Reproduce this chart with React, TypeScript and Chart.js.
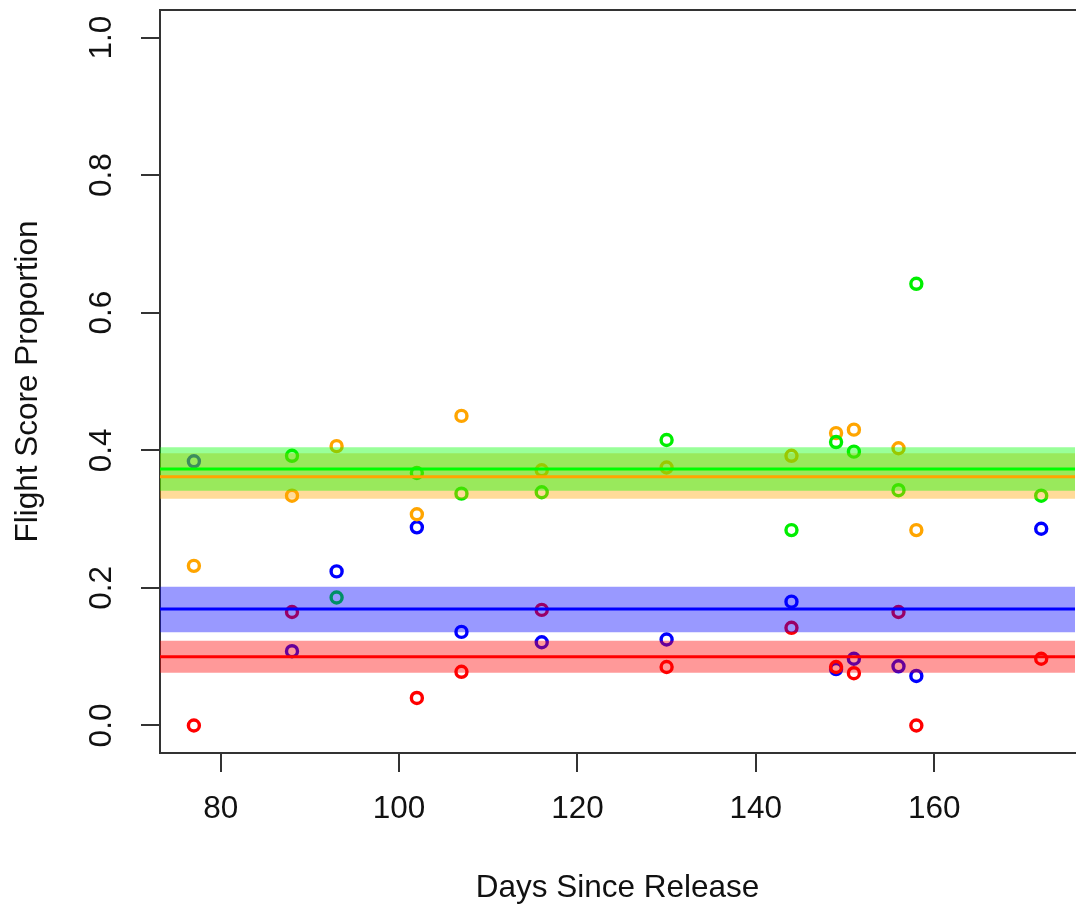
import React, { useEffect, useRef } from 'react';
import { Chart, registerables } from 'chart.js';

Chart.register(...registerables);

// ---- data ----
const days = [77, 88, 93, 102, 107, 116, 130, 144, 149, 151, 156, 158, 172];
const redValues = [0.0, 0.165, null, 0.04, 0.078, 0.168, 0.085, 0.142, 0.085, 0.076, 0.165, 0.0, 0.097];
const blueValues = [0.384, 0.108, 0.224, 0.288, 0.136, 0.121, 0.125, 0.18, 0.082, 0.097, 0.086, 0.072, 0.286];
const greenValues = [null, 0.392, 0.186, 0.367, 0.337, 0.339, 0.415, 0.284, 0.412, 0.398, 0.342, 0.642, 0.334];
const orangeValues = [0.232, 0.334, 0.406, 0.307, 0.45, 0.371, 0.375, 0.392, 0.425, 0.43, 0.403, 0.284, null];

// group means with confidence bands [mean, lower, upper]
const greenMean = [0.3728, 0.3413, 0.4044];
const orangeMean = [0.3616, 0.3297, 0.3956];
const blueMean = [0.1693, 0.1355, 0.2017];
const redMean = [0.1, 0.0767, 0.1233];

const xTicks = [80, 100, 120, 140, 160];
const yTicks = [0, 0.2, 0.4, 0.6, 0.8, 1.0];
const xLabel = 'Days Since Release';
const yLabel = 'Flight Score Proportion';

const X_MIN = 73.2;
const X_MAX = 175.8;
const Y_MIN = -0.04;
const Y_MAX = 1.04;

const FONT = { family: '"Liberation Sans", Arial, sans-serif', size: 31.5, lineHeight: 1 };
const AXIS_COLOR = '#333333';

function pts(values: (number | null)[]) {
  const out: { x: number; y: number }[] = [];
  values.forEach((v, i) => {
    if (v !== null) out.push({ x: days[i], y: v });
  });
  return out;
}

function hline(y: number) {
  return [
    { x: X_MIN, y },
    { x: X_MAX, y },
  ];
}

export default function App() {
  const ref = useRef<HTMLCanvasElement | null>(null);

  useEffect(() => {
    if (!ref.current) return;
    const pointDs = (label: string, values: (number | null)[], color: string, order: number) => ({
      type: 'scatter' as const,
      label,
      data: pts(values),
      showLine: false,
      borderColor: color,
      backgroundColor: 'rgba(0,0,0,0)',
      pointBorderColor: color,
      pointBackgroundColor: 'rgba(0,0,0,0)',
      pointRadius: 5.5,
      pointBorderWidth: 3.4,
      pointHoverRadius: 5.5,
      order,
    });
    const bandDs = (label: string, m: number[], fillColor: string, order: number) => ({
      type: 'line' as const,
      label,
      data: hline(m[2]),
      borderWidth: 0,
      borderColor: 'rgba(0,0,0,0)',
      backgroundColor: fillColor,
      pointRadius: 0,
      fill: { value: m[1] },
      order,
    });
    const lineDs = (label: string, m: number[], color: string) => ({
      type: 'line' as const,
      label,
      data: hline(m[0]),
      borderWidth: 3,
      borderColor: color,
      pointRadius: 0,
      fill: false,
      order: 1,
    });

    const chart = new Chart(ref.current, {
      type: 'scatter',
      data: {
        datasets: [
          pointDs('blue', blueValues, '#0000FF', 104),
          pointDs('red', redValues, '#FF0000', 103),
          pointDs('orange', orangeValues, '#FFA500', 102),
          pointDs('green', greenValues, '#00EE00', 101),
          bandDs('red band', redMean, 'rgba(255,0,0,0.4)', 40),
          bandDs('blue band', blueMean, 'rgba(0,0,255,0.4)', 30),
          bandDs('orange band', orangeMean, 'rgba(255,165,0,0.4)', 20),
          bandDs('green band', greenMean, 'rgba(0,255,0,0.4)', 10),
          lineDs('red mean', redMean, '#FF0000'),
          lineDs('blue mean', blueMean, '#0000FF'),
          lineDs('orange mean', orangeMean, '#FFA500'),
          lineDs('green mean', greenMean, '#00FF00'),
        ] as any,
      },
      options: {
        animation: false,
        responsive: false,
        devicePixelRatio: 1,
        events: [],
        layout: { padding: 0 },
        plugins: {
          legend: { display: false },
          tooltip: { enabled: false },
          title: { display: false },
        },
        scales: {
          x: {
            type: 'linear',
            position: 'bottom',
            min: X_MIN,
            max: X_MAX,
            afterBuildTicks: (s: any) => {
              s.ticks = xTicks.map((v) => ({ value: v }));
            },
            afterFit: (s: any) => {
              s.height = 155;
              s.paddingLeft = 0;
              s.paddingRight = 0;
            },
            grid: {
              drawOnChartArea: false,
              drawTicks: true,
              tickLength: 19,
              lineWidth: 2,
              color: AXIS_COLOR,
            },
            border: { display: true, color: AXIS_COLOR, width: 2 },
            ticks: {
              font: FONT,
              color: '#111111',
              padding: 22,
              maxRotation: 0,
              minRotation: 0,
              autoSkip: false,
              callback: (v: any) => String(v),
            },
            title: {
              display: true,
              text: xLabel,
              font: FONT,
              color: '#111111',
              padding: { top: 0, bottom: 4 },
            },
          },
          xTop: {
            type: 'linear',
            position: 'top',
            min: X_MIN,
            max: X_MAX,
            afterFit: (s: any) => {
              s.height = 10;
              s.paddingLeft = 0;
              s.paddingRight = 0;
            },
            grid: { display: false, drawTicks: false },
            ticks: { display: false },
            border: { display: true, color: AXIS_COLOR, width: 2 },
          },
          y: {
            type: 'linear',
            position: 'left',
            min: Y_MIN,
            max: Y_MAX,
            afterBuildTicks: (s: any) => {
              s.ticks = yTicks.map((v) => ({ value: v }));
            },
            afterFit: (s: any) => {
              s.width = 160;
              s.paddingTop = 0;
              s.paddingBottom = 0;
            },
            grid: {
              drawOnChartArea: false,
              drawTicks: true,
              tickLength: 19,
              lineWidth: 2,
              color: AXIS_COLOR,
            },
            border: { display: true, color: AXIS_COLOR, width: 2 },
            ticks: {
              font: FONT,
              color: '#111111',
              padding: 17,
              minRotation: 90,
              maxRotation: 90,
              crossAlign: 'center',
              autoSkip: false,
              callback: (v: any) => Number(v).toFixed(1),
            },
            title: {
              display: true,
              text: yLabel,
              font: FONT,
              color: '#111111',
              padding: { top: 13, bottom: 0 },
            },
          },
        },
      } as any,
    });
    return () => chart.destroy();
  }, []);

  return (
    <div
      style={{
        position: 'absolute',
        left: 0,
        top: 0,
        width: 1076,
        height: 908,
        overflow: 'hidden',
        background: '#ffffff',
      }}
    >
      <canvas ref={ref} width={1084} height={908} style={{ display: 'block', width: 1084, height: 908 }} />
    </div>
  );
}
